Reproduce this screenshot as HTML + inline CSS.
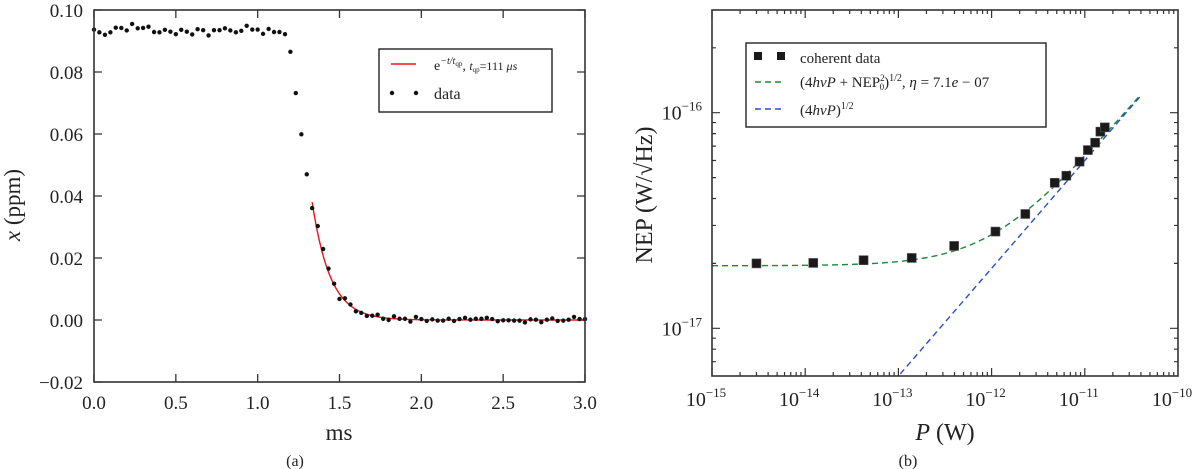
<!DOCTYPE html>
<html><head><meta charset="utf-8"><style>
body{margin:0;background:#fff;}
svg{display:block;font-family:"Liberation Serif",serif;}
</style></head><body>
<svg id="fig" width="1200" height="469" viewBox="0 0 1200 469" xmlns="http://www.w3.org/2000/svg"></svg>
<script>
// ---- Panel (a) data ----
const aTimes = [0,0.033,0.067,0.1,0.133,0.167,0.2,0.233,0.267,0.3,0.333,0.367,0.4,0.433,0.467,0.5,0.533,0.567,0.6,0.633,0.667,0.7,0.733,0.767,0.8,0.833,0.867,0.9,0.933,0.967,1.0,1.033,1.067,1.1,1.133,1.167,1.2,1.233,1.267,1.3,1.333,1.367,1.4,1.433,1.467,1.5,1.533,1.567,1.6,1.633,1.667,1.7,1.733,1.767,1.8,1.833,1.867,1.9,1.933,1.967,2.0,2.033,2.067,2.1,2.133,2.167,2.2,2.233,2.267,2.3,2.333,2.367,2.4,2.433,2.467,2.5,2.533,2.567,2.6,2.633,2.667,2.7,2.733,2.767,2.8,2.833,2.867,2.9,2.933,2.967,3.0];
const aValues = [0.0937,0.0928,0.0920,0.0928,0.0943,0.0942,0.0934,0.0955,0.0941,0.0942,0.0946,0.0929,0.0928,0.0936,0.0930,0.0922,0.0936,0.0930,0.0921,0.0938,0.0935,0.0918,0.0935,0.0935,0.0941,0.0934,0.0928,0.0933,0.0949,0.0937,0.0937,0.0923,0.0939,0.0929,0.0929,0.0922,0.0865,0.0732,0.0599,0.0470,0.0361,0.0303,0.0229,0.0166,0.0117,0.0068,0.0070,0.0050,0.0028,0.0023,0.0013,0.0014,0.0017,0.0004,0.0000,0.0012,0.0004,0.0004,-0.0005,0.0010,0.0003,-0.0003,0.0002,-0.0002,-0.0002,0.0004,-0.0003,0.0003,0.0007,0.0001,0.0004,0.0004,0.0007,0.0003,-0.0004,-0.0001,-0.0001,-0.0002,-0.0002,-0.0008,0.0002,0.0001,-0.0007,0.0001,0.0005,-0.0003,-0.0002,0.0001,0.0010,0.0003,0.0003];
const aFitParams = [1.333, 0.038, 0.111]; // t0 (ms), amplitude (ppm), t_qp (ms)
const aXTicks = [0,0.5,1.0,1.5,2.0,2.5,3.0];
const aXTickLabels = ["0.0","0.5","1.0","1.5","2.0","2.5","3.0"];
const aYTicks = [-0.02,0,0.02,0.04,0.06,0.08,0.10];
const aYTickLabels = ["\u22120.02","0.00","0.02","0.04","0.06","0.08","0.10"];

// ---- Panel (b) data ----
const bPower = [3.0e-15,1.22e-14,4.23e-14,1.39e-13,3.96e-13,1.10e-12,2.30e-12,4.76e-12,6.34e-12,8.79e-12,1.08e-11,1.29e-11,1.47e-11,1.64e-11];
const bNEP = [2.00e-17,2.01e-17,2.07e-17,2.12e-17,2.41e-17,2.81e-17,3.39e-17,4.73e-17,5.10e-17,5.93e-17,6.71e-17,7.26e-17,8.17e-17,8.55e-17];
const bFitParams = [1.95e-17, 3.6e-22]; // NEP0, 4*h*nu*eta coefficient (W)
const bXTicks = [-15,-14,-13,-12,-11,-10];
const bXTickLabels = ["\u221215","\u221214","\u221213","\u221212","\u221211","\u221210"];
const bYTicks = [-17,-16];
const bYTickLabels = ["\u221217","\u221216"];

const NS="http://www.w3.org/2000/svg";
const svg=document.getElementById('fig');
function mk(tag,attrs,parent){const e=document.createElementNS(NS,tag);for(const k in attrs)e.setAttribute(k,attrs[k]);(parent||svg).appendChild(e);return e;}

// ===== Panel (a) =====
const A={l:94,r:585,t:10,b:382};
const ax=t=>A.l+(t-0)/(3-0)*(A.r-A.l);
const ay=v=>A.b-(v+0.02)/(0.12)*(A.b-A.t);
const ga=mk('g',{});


aXTicks.forEach((t,i)=>{
  const x=ax(t);
  const tk=mk('path',{d:`M${x},${A.b}v-8M${x},${A.t}v8`,stroke:'#333','stroke-width':1.3},ga);
  
  
  const lb=mk('text',{x:x,y:A.b+27,'text-anchor':'middle','font-size':19,fill:'#222'},ga);
  lb.textContent=aXTickLabels[i];
  
  
});
aYTicks.forEach((v,i)=>{
  const y=ay(v);
  const tk=mk('path',{d:`M${A.l},${y}h8M${A.r},${y}h-8`,stroke:'#333','stroke-width':1.3},ga);
  
  
  const lb=mk('text',{x:A.l-11,y:y+7,'text-anchor':'end','font-size':19,fill:'#222'},ga);
  lb.textContent=aYTickLabels[i];
  
  
});
let fp='';
for(let t=aFitParams[0];t<=3.0001;t+=0.005){fp+=(fp?'L':'M')+ax(t).toFixed(2)+','+ay(aFitParams[1]*Math.exp(-(t-aFitParams[0])/aFitParams[2])).toFixed(2);}
const fitA=mk('path',{d:fp,fill:'none',stroke:'#e8141c','stroke-width':1.4},ga);


aTimes.forEach((t,i)=>{
  const c=mk('circle',{cx:ax(t),cy:ay(aValues[i]),r:2.2,fill:'#111'},ga);
  
  
});
const boxA=mk('rect',{x:A.l,y:A.t,width:A.r-A.l,height:A.b-A.t,fill:'none',stroke:'#333','stroke-width':1.6},ga);


</script>
<script>
(function(){
const g=mk('g',{});


mk('rect',{x:379,y:49,width:173,height:63,fill:'#fff',stroke:'#222','stroke-width':1.4},g);
const l1=mk('line',{x1:391,y1:64,x2:416,y2:64,stroke:'#e8141c','stroke-width':1.4},g);


const t1=mk('text',{x:434,y:70,'font-size':14,fill:'#222'},g);
t1.innerHTML='e<tspan dy="-6" font-size="10" font-style="italic">\u2212t/t</tspan><tspan dy="2" font-size="7">qp</tspan><tspan dy="4">, </tspan><tspan font-style="italic" font-size="12">t</tspan><tspan dy="2" font-size="7">qp</tspan><tspan dy="-2" font-size="12">=111 </tspan><tspan font-style="italic" font-size="12">\u03bcs</tspan>';


mk('circle',{cx:392,cy:93,r:2.2,fill:'#111'},g);
mk('circle',{cx:416,cy:93,r:2.2,fill:'#111'},g);
const t2=mk('text',{x:434,y:99,'font-size':16,fill:'#222'},g);
t2.textContent='data';


const xl=mk('text',{x:339,y:440,'text-anchor':'middle','font-size':23,fill:'#222'});
xl.textContent='ms';


const yl=mk('text',{x:0,y:0,'text-anchor':'middle','font-size':23,fill:'#222',transform:'translate(20,205) rotate(-90)'});
yl.innerHTML='<tspan font-style="italic">x</tspan> (ppm)';


const cap=mk('text',{x:295,y:466,'text-anchor':'middle','font-size':16,fill:'#222'});
cap.textContent='(a)';


})();
</script>
<script>
// ===== Panel (b) =====
const B={l:712,r:1178,t:10,b:376};
const bx=lp=>B.l+(lp+15)/5*(B.r-B.l);
const by=ln=>328.3-(ln+17)*215.6;
const gb=mk('g',{});


for(let d=-15;d<-10;d++){for(let m=1;m<10;m++){const x=bx(d+Math.log10(m));const L=m===1?8:4;
  const tk=mk('path',{d:`M${x},${B.b}v-${L}M${x},${B.t}v${L}`,stroke:'#333','stroke-width':1.2},gb);
  
  }}
bXTicks.forEach((d,i)=>{
  const lb=mk('text',{x:bx(d)-6,y:B.b+30,'text-anchor':'middle','font-size':20,fill:'#222'},gb);
  lb.innerHTML='10<tspan dy="-9" font-size="13">'+bXTickLabels[i]+'</tspan>';
  
  
});
for(let d=-18;d<-15;d++){for(let m=1;m<10;m++){const ln=d+Math.log10(m);const y=by(ln);if(y<B.t||y>B.b)continue;const L=m===1?8:4;
  const tk=mk('path',{d:`M${B.l},${y}h${L}M${B.r},${y}h-${L}`,stroke:'#333','stroke-width':1.2},gb);
  
  }}
bYTicks.forEach((d,i)=>{
  const lb=mk('text',{x:B.l-10,y:by(d)+7,'text-anchor':'end','font-size':20,fill:'#222'},gb);
  lb.innerHTML='10<tspan dy="-9" font-size="13">'+bYTickLabels[i]+'</tspan>';
  
  
});
let gp='',bp='';
for(let lp=-15;lp<=-10.39;lp+=0.02){const P=Math.pow(10,lp);
  const ng=Math.sqrt(bFitParams[1]*P+bFitParams[0]*bFitParams[0]);gp+=(gp?'L':'M')+bx(lp).toFixed(2)+','+by(Math.log10(ng)).toFixed(2);
  const nb=Math.sqrt(bFitParams[1]*P);const yb=by(Math.log10(nb));if(yb<=B.b)bp+=(bp?'L':'M')+bx(lp).toFixed(2)+','+yb.toFixed(2);}
const gl=mk('path',{d:gp,fill:'none',stroke:'#1a8a3a','stroke-width':1.4,'stroke-dasharray':'6,4'},gb);


const bl=mk('path',{d:bp,fill:'none',stroke:'#2a4fc0','stroke-width':1.4,'stroke-dasharray':'6,4'},gb);


bPower.forEach((P,i)=>{
  const x=bx(Math.log10(P)),y=by(Math.log10(bNEP[i]));
  const s=mk('rect',{x:x-4.5,y:y-4.5,width:9,height:9,fill:'#1a1a1a',stroke:'#555','stroke-width':0.6},gb);
  
  
});
const boxB=mk('rect',{x:B.l,y:B.t,width:B.r-B.l,height:B.b-B.t,fill:'none',stroke:'#333','stroke-width':1.6},gb);


</script>
<script>
(function(){
const g=mk('g',{});


mk('rect',{x:746,y:43,width:300,height:84,fill:'#fff',stroke:'#222','stroke-width':1.4},g);
mk('rect',{x:754,y:52,width:8,height:8,fill:'#1a1a1a'},g);
mk('rect',{x:777,y:52,width:8,height:8,fill:'#1a1a1a'},g);
mk('line',{x1:755,y1:82,x2:785,y2:82,stroke:'#1a8a3a','stroke-width':1.4,'stroke-dasharray':'6,4'},g);
mk('line',{x1:755,y1:109,x2:785,y2:109,stroke:'#2a4fc0','stroke-width':1.4,'stroke-dasharray':'6,4'},g);
const t1=mk('text',{x:800,y:63,'font-size':15,fill:'#222'},g);
t1.textContent='coherent data';


const t2=mk('text',{x:800,y:87,'font-size':15,fill:'#222'},g);
t2.innerHTML='(4<tspan font-style="italic">h\u03bdP</tspan> + NEP<tspan dy="-6" font-size="9">2</tspan><tspan dy="9" dx="-5" font-size="9">0</tspan><tspan dy="-3">)</tspan><tspan dy="-6" font-size="10">1/2</tspan><tspan dy="6">,  </tspan><tspan font-style="italic">\u03b7</tspan> = 7.1<tspan font-style="italic">e</tspan> \u2212 07';


const t3=mk('text',{x:800,y:115,'font-size':15,fill:'#222'},g);
t3.innerHTML='(4<tspan font-style="italic">h\u03bdP</tspan>)<tspan dy="-6" font-size="10">1/2</tspan>';


const xl=mk('text',{x:945,y:440,'text-anchor':'middle','font-size':24,fill:'#222'});
xl.innerHTML='<tspan font-style="italic">P</tspan> (W)';


const yl=mk('text',{x:0,y:0,'text-anchor':'middle','font-size':24,fill:'#222',transform:'translate(652,195) rotate(-90)'});
yl.innerHTML='NEP (W/\u221AHz)';


const cap=mk('text',{x:908,y:466,'text-anchor':'middle','font-size':16,fill:'#222'});
cap.textContent='(b)';


})();
</script>
</body></html>
